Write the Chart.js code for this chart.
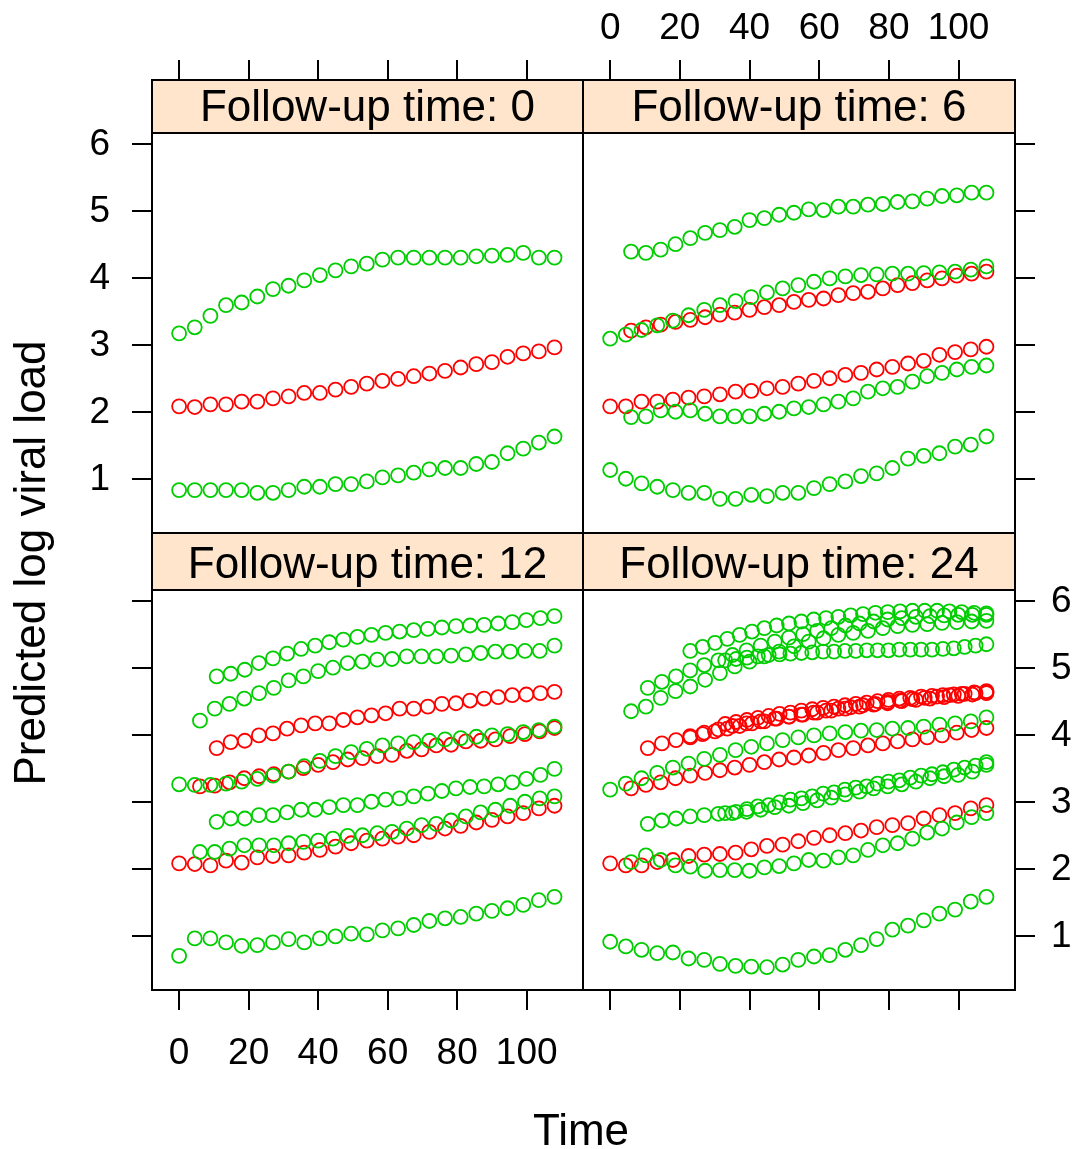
<!DOCTYPE html>
<html>
<head>
<meta charset="utf-8">
<script src="https://cdn.jsdelivr.net/npm/chart.js@4.4.1/dist/chart.umd.min.js"></script>
<style>
  body { margin: 0; background: #fff; width: 1079px; height: 1149px; position: relative; overflow: hidden;
         font-family: "Liberation Sans", Arial, sans-serif; }
  canvas { position: absolute; }
  .axtitle { position: absolute; font-size: 44px; line-height: 50px; text-align: center; color: #000; white-space: nowrap; }
  #ytitle { left: -270px; top: 538px; width: 600px; transform: rotate(-90deg); }
  #xtitle { left: 281px; top: 1105px; width: 600px; }
</style>
</head>
<body>
<canvas id="c0" width="590" height="540" style="left:0;top:0"></canvas>
<canvas id="c1" width="503" height="540" style="left:576px;top:0"></canvas>
<canvas id="c2" width="590" height="623" style="left:0;top:526px"></canvas>
<canvas id="c3" width="503" height="623" style="left:576px;top:526px"></canvas>
<div class="axtitle" id="ytitle">Predicted log viral load</div>
<div class="axtitle" id="xtitle">Time</div>
<script>
var stripLabels = ['Follow-up time: 0', 'Follow-up time: 6', 'Follow-up time: 12', 'Follow-up time: 24'];
var xTicks = [0, 20, 40, 60, 80, 100];
var yTicks = [1, 2, 3, 4, 5, 6];

// time grids of the predicted curves
var tA = [0,4.5,9,13.5,18,22.5,27,31.5,36,40.5,45,49.5,54,58.5,63,67.5,72,76.5,81,85.5,90,94.5,99,103.5,108];
var tB = [6,10.25,14.5,18.75,23,27.25,31.5,35.75,40,44.25,48.5,52.75,57,61.25,65.5,69.75,74,78.25,82.5,86.75,91,95.25,99.5,103.75,108];
var tC = [10.8,14.85,18.9,22.95,27,31.05,35.1,39.15,43.2,47.25,51.3,55.35,59.4,63.45,67.5,71.55,75.6,79.65,83.7,87.75,91.8,95.85,99.9,103.95,108];
var tD = [23,26.54,30.08,33.63,37.17,40.71,44.25,47.79,51.33,54.88,58.42,61.96,65.5,69.04,72.58,76.13,79.67,83.21,86.75,90.29,93.83,97.38,100.92,104.46,108];
var tE = [33,36.13,39.25,42.38,45.5,48.63,51.75,54.88,58,61.13,64.25,67.38,70.5,73.63,76.75,79.88,83,86.13,89.25,92.38,95.5,98.63,101.75,104.88,108];

// follow-up time 0
var fu0_g1 = [3.18,3.27,3.44,3.60,3.64,3.73,3.84,3.89,3.97,4.05,4.12,4.18,4.22,4.28,4.31,4.31,4.31,4.31,4.31,4.33,4.34,4.35,4.38,4.31,4.31];
var fu0_r1 = [2.09,2.08,2.12,2.12,2.16,2.16,2.21,2.24,2.29,2.29,2.34,2.38,2.43,2.47,2.50,2.54,2.58,2.62,2.67,2.72,2.75,2.83,2.88,2.91,2.97];
var fu0_g2 = [0.84,0.84,0.84,0.84,0.84,0.80,0.80,0.84,0.89,0.89,0.93,0.93,0.97,1.03,1.06,1.10,1.15,1.17,1.17,1.23,1.26,1.39,1.46,1.55,1.64];

// follow-up time 6
var fu6_g1 = [4.40,4.38,4.43,4.51,4.60,4.68,4.72,4.77,4.87,4.90,4.95,4.98,5.03,5.02,5.07,5.07,5.10,5.11,5.14,5.15,5.19,5.23,5.24,5.28,5.28];
var fu6_g2 = [3.10,3.16,3.23,3.30,3.37,3.45,3.53,3.60,3.66,3.72,3.79,3.85,3.90,3.95,4.00,4.03,4.05,4.06,4.07,4.07,4.08,4.09,4.10,4.13,4.18];
var fu6_r1 = [3.22,3.27,3.31,3.35,3.38,3.42,3.46,3.49,3.53,3.57,3.60,3.65,3.68,3.70,3.75,3.78,3.80,3.85,3.90,3.93,3.97,4.00,4.04,4.07,4.10];
var fu6_r2 = [2.09,2.09,2.16,2.16,2.19,2.22,2.24,2.27,2.31,2.32,2.36,2.38,2.43,2.47,2.51,2.56,2.59,2.64,2.68,2.73,2.77,2.86,2.90,2.94,2.98];
var fu6_g3 = [1.93,1.94,2.03,2.01,2.03,1.98,1.94,1.94,1.94,1.98,2.01,2.06,2.08,2.12,2.16,2.21,2.31,2.36,2.38,2.46,2.54,2.59,2.64,2.68,2.70];
var fu6_g4 = [1.14,1.01,0.94,0.89,0.84,0.80,0.80,0.71,0.71,0.77,0.75,0.80,0.80,0.87,0.93,0.97,1.05,1.09,1.17,1.31,1.35,1.39,1.49,1.52,1.64];

// follow-up time 12
var fu12_g1 = [4.88,4.92,4.98,5.08,5.15,5.22,5.29,5.34,5.39,5.43,5.47,5.50,5.53,5.55,5.57,5.59,5.61,5.63,5.64,5.65,5.67,5.69,5.72,5.75,5.78];
var fu12_g2 = [4.22,4.40,4.47,4.55,4.63,4.71,4.82,4.88,4.96,5.01,5.08,5.10,5.13,5.14,5.18,5.18,5.18,5.19,5.21,5.23,5.25,5.25,5.26,5.26,5.34];
var fu12_r1 = [3.81,3.90,3.92,4.00,4.03,4.10,4.15,4.18,4.18,4.23,4.27,4.30,4.33,4.40,4.40,4.43,4.47,4.48,4.52,4.55,4.57,4.60,4.61,4.63,4.65];
var fu12_g3 = [3.27,3.26,3.26,3.28,3.31,3.35,3.40,3.46,3.54,3.62,3.69,3.75,3.80,3.85,3.88,3.90,3.92,3.94,3.96,3.98,4.00,4.02,4.05,4.08,4.13];
var fu12_r2 = [3.24,3.25,3.30,3.36,3.39,3.42,3.46,3.51,3.56,3.60,3.64,3.66,3.69,3.71,3.77,3.79,3.85,3.86,3.91,3.92,3.94,3.99,4.02,4.06,4.11];
var fu12_g4 = [2.71,2.76,2.76,2.81,2.81,2.85,2.89,2.89,2.93,2.96,2.96,3.01,3.04,3.06,3.09,3.13,3.17,3.21,3.23,3.24,3.27,3.30,3.35,3.41,3.50];
var fu12_g5 = [2.26,2.26,2.31,2.36,2.36,2.36,2.39,2.41,2.43,2.46,2.50,2.51,2.54,2.56,2.61,2.66,2.68,2.73,2.79,2.85,2.89,2.95,3.01,3.06,3.09];
var fu12_r3 = [2.09,2.08,2.06,2.13,2.10,2.18,2.20,2.21,2.25,2.29,2.34,2.39,2.43,2.46,2.49,2.51,2.56,2.61,2.65,2.70,2.74,2.79,2.84,2.91,2.95];
var fu12_g6 = [0.71,0.97,0.97,0.91,0.86,0.87,0.91,0.96,0.91,0.97,1.00,1.04,1.03,1.09,1.12,1.17,1.23,1.27,1.29,1.34,1.38,1.42,1.47,1.54,1.59];

// follow-up time 24
var fu24_g1 = [4.36,4.43,4.56,4.66,4.73,4.83,4.93,5.03,5.10,5.18,5.25,5.33,5.40,5.45,5.50,5.53,5.56,5.60,5.63,5.65,5.66,5.68,5.69,5.70,5.71];
var fu24_g2 = [4.71,4.80,4.88,4.97,5.05,5.12,5.20,5.27,5.34,5.40,5.46,5.51,5.56,5.60,5.64,5.67,5.70,5.73,5.75,5.77,5.78,5.79,5.80,5.80,5.80];
var fu24_g3 = [5.26,5.32,5.38,5.44,5.50,5.55,5.60,5.64,5.67,5.70,5.73,5.75,5.77,5.79,5.81,5.83,5.84,5.85,5.86,5.86,5.86,5.85,5.84,5.83,5.82];
var fu24_g4 = [5.12,5.14,5.16,5.18,5.20,5.21,5.22,5.23,5.24,5.25,5.25,5.26,5.26,5.27,5.27,5.27,5.28,5.28,5.28,5.28,5.29,5.30,5.32,5.34,5.36];
var fu24_r1 = [3.81,3.88,3.93,3.99,4.04,4.09,4.14,4.18,4.21,4.25,4.28,4.31,4.34,4.37,4.40,4.43,4.46,4.48,4.51,4.53,4.55,4.57,4.59,4.61,4.63];
var fu24_r2 = [3.97,4.02,4.06,4.10,4.14,4.18,4.21,4.25,4.28,4.31,4.34,4.37,4.40,4.42,4.45,4.47,4.50,4.52,4.54,4.56,4.58,4.60,4.62,4.64,4.66];
var fu24_r3 = [4.17,4.20,4.23,4.26,4.29,4.32,4.34,4.37,4.39,4.41,4.43,4.45,4.47,4.49,4.51,4.53,4.55,4.56,4.58,4.59,4.60,4.61,4.62,4.63,4.64];
var fu24_g5 = [3.19,3.28,3.36,3.44,3.52,3.58,3.65,3.71,3.78,3.83,3.88,3.93,3.97,4.00,4.03,4.05,4.07,4.08,4.10,4.11,4.13,4.16,4.18,4.21,4.27];
var fu24_r4 = [3.21,3.26,3.30,3.36,3.40,3.44,3.48,3.52,3.56,3.60,3.64,3.67,3.70,3.74,3.78,3.81,3.85,3.88,3.91,3.94,3.97,4.00,4.04,4.08,4.11];
var fu24_g6 = [2.68,2.73,2.76,2.79,2.81,2.83,2.84,2.86,2.89,2.93,2.95,2.99,3.03,3.07,3.12,3.16,3.21,3.24,3.27,3.31,3.36,3.39,3.41,3.46,3.56];
var fu24_g7 = [2.84,2.86,2.90,2.94,2.96,3.00,3.04,3.06,3.09,3.13,3.15,3.19,3.22,3.24,3.28,3.31,3.33,3.37,3.40,3.42,3.45,3.49,3.52,3.55,3.60];
var fu24_r5 = [2.09,2.06,2.06,2.11,2.14,2.20,2.22,2.23,2.25,2.30,2.35,2.37,2.42,2.47,2.51,2.54,2.58,2.63,2.66,2.69,2.76,2.81,2.84,2.91,2.96];
var fu24_g8 = [2.11,2.21,2.14,2.06,2.04,1.98,1.99,1.99,1.98,2.03,2.05,2.09,2.14,2.13,2.18,2.21,2.29,2.36,2.39,2.46,2.55,2.61,2.70,2.78,2.84];
var fu24_g9 = [0.92,0.85,0.80,0.75,0.76,0.67,0.65,0.59,0.56,0.55,0.54,0.58,0.65,0.70,0.72,0.80,0.87,0.96,1.10,1.16,1.24,1.34,1.40,1.52,1.59];

var RED = '#FF0000', GREEN = '#00CD00';

var panelSeries = [
  [[tA, fu0_g1, GREEN], [tA, fu0_g2, GREEN], [tA, fu0_r1, RED]],
  [[tB, fu6_g1, GREEN], [tA, fu6_g2, GREEN], [tB, fu6_g3, GREEN], [tA, fu6_g4, GREEN],
   [tB, fu6_r1, RED], [tA, fu6_r2, RED]],
  [[tC, fu12_g1, GREEN], [tB, fu12_g2, GREEN], [tA, fu12_g3, GREEN], [tC, fu12_g4, GREEN],
   [tB, fu12_g5, GREEN], [tA, fu12_g6, GREEN],
   [tC, fu12_r1, RED], [tB, fu12_r2, RED], [tA, fu12_r3, RED]],
  [[tB, fu24_g1, GREEN], [tC, fu24_g2, GREEN], [tD, fu24_g3, GREEN], [tE, fu24_g4, GREEN],
   [tA, fu24_g5, GREEN], [tC, fu24_g6, GREEN], [tE, fu24_g7, GREEN], [tB, fu24_g8, GREEN],
   [tA, fu24_g9, GREEN],
   [tC, fu24_r1, RED], [tD, fu24_r2, RED], [tE, fu24_r3, RED], [tB, fu24_r4, RED], [tA, fu24_r5, RED]]
];

var FONT = '"Liberation Sans", Arial, sans-serif';

// strip background + panel frames (lattice look)
var latticeFrame = {
  id: 'latticeFrame',
  beforeDraw: function(chart) {
    var t = chart.titleBlock, ctx = chart.ctx;
    ctx.save();
    ctx.fillStyle = '#FFE5CC';
    ctx.fillRect(t.left, t.top, t.width, t.height);
    ctx.restore();
  },
  afterDraw: function(chart) {
    var a = chart.chartArea, t = chart.titleBlock, ctx = chart.ctx;
    ctx.save();
    ctx.strokeStyle = '#000';
    ctx.lineWidth = 2;
    ctx.strokeRect(t.left, t.top, t.width, t.height);
    ctx.strokeRect(a.left, a.top, a.right - a.left, a.bottom - a.top);
    ctx.restore();
  }
};

function makePanel(idx) {
  var top = idx < 2, left = idx % 2 === 0;
  var datasets = panelSeries[idx].map(function(s) {
    return {
      data: s[1].map(function(v, i) { return { x: s[0][i], y: v }; }),
      showLine: false,
      pointStyle: 'circle',
      pointRadius: 7,
      pointBorderWidth: 1.8,
      borderColor: s[2],
      backgroundColor: 'rgba(0,0,0,0)'
    };
  });
  var tickGrid = { display: true, drawOnChartArea: false, drawTicks: true, tickLength: 20, color: '#000', lineWidth: 2 };
  var stripH = top ? 53 : 57;
  new Chart(document.getElementById('c' + idx), {
    type: 'scatter',
    data: { datasets: datasets },
    options: {
      responsive: false,
      animation: false,
      devicePixelRatio: 1,
      layout: { autoPadding: false,
                padding: { top: top ? 0 : 7, bottom: top ? 7 : 0, left: left ? 0 : 7, right: left ? 7 : 0 } },
      plugins: {
        legend: { display: false },
        tooltip: { enabled: false },
        title: {
          display: true, text: stripLabels[idx], color: '#000', fullSize: false,
          font: { family: FONT, size: 44, weight: 'normal', lineHeight: (stripH - (top ? 5 : 8)) / 44 },
          padding: { top: top ? 5 : 8, bottom: 0 }
        }
      },
      scales: {
        x: {
          type: 'linear', position: top ? 'top' : 'bottom', weight: 3000,
          min: -7.8, max: 116.2,
          afterBuildTicks: function(s) { s.ticks = xTicks.map(function(v) { return { value: v }; }); },
          afterFit: function(s) { s.height = top ? 80 : 159; s.paddingLeft = 0; s.paddingRight = 0; },
          grid: tickGrid, border: { display: false },
          ticks: { display: top !== left, color: '#000', padding: top ? 9 : 22, maxRotation: 0,
                   font: { family: FONT, size: 37 } }
        },
        y: {
          type: 'linear', position: left ? 'left' : 'right',
          min: 0.2, max: 6.17,
          afterBuildTicks: function(s) { s.ticks = yTicks.map(function(v) { return { value: v }; }); },
          afterFit: function(s) { s.width = left ? 152 : 64; s.paddingTop = 0; s.paddingBottom = 0; },
          grid: tickGrid, border: { display: false },
          ticks: { display: top === left, color: '#000', padding: left ? 22 : 16,
                   font: { family: FONT, size: 37 } }
        }
      }
    },
    plugins: [latticeFrame]
  });
}

for (var i = 0; i < 4; i++) makePanel(i);
</script>
</body>
</html>
